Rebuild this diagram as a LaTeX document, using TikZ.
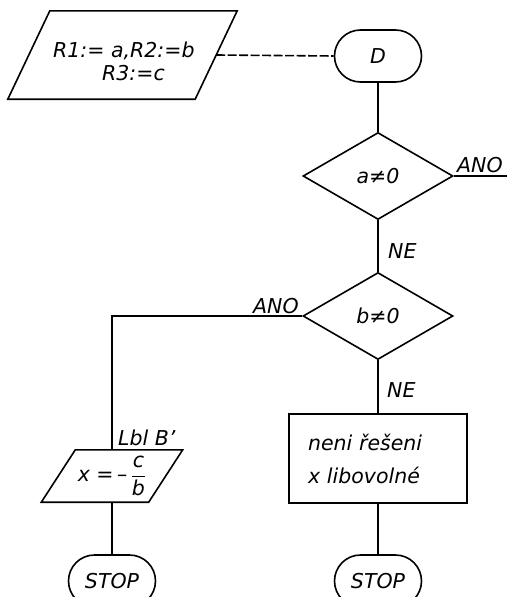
\documentclass[tikz,border=0pt]{standalone}
\usepackage{fontspec}
\usepackage{amsmath}
\setmainfont{DejaVu Sans}
\usetikzlibrary{shapes.geometric}
\begin{document}
\begin{tikzpicture}[x=1pt,y=-1pt,
  every node/.style={font=\fontsize{20.5}{33}\selectfont\itshape},
  line/.style={line width=1.6pt},
  term/.style={draw,line width=1.6pt,rectangle,rounded corners=26pt,minimum width=87pt,minimum height=52pt,inner sep=0pt},
  dec/.style={draw,line width=1.6pt,shape=diamond,minimum width=150pt,minimum height=87pt,inner sep=0pt},
  iobox/.style={rectangle,inner sep=0pt},
  lab/.style={inner sep=0pt}]
\useasboundingbox (0,0) rectangle (507,597);
% nodes
\node[iobox,minimum width=229pt,minimum height=88pt] (in) at (122.5,55) {};
\draw[line,line join=miter] ([xshift=42pt]in.north west) -- (in.north east) -- ([xshift=-42pt]in.south east) -- (in.south west) -- cycle;
\coordinate (inR) at ([xshift=-21pt]in.east);
\node[lab,anchor=base west] (t1) at (53,57) {R1:= a,R2:=b};
\node[lab,anchor=base west] (t2) at (102,80) {R3:=c};
\node[term] (D) at (378,56) {D};
\node[dec] (d1) at (378,176) {a≠0};
\node[dec] (d2) at (378,316) {b≠0};
\node[draw,line width=1.6pt,rectangle,minimum width=178pt,minimum height=89pt,text width=140pt,inner xsep=19pt,align=left] (r) at (378,458.5) {neni řešeni\\x libovolné};
\node[iobox,minimum width=141pt,minimum height=52pt] (out) at (112,476) {x =\,–\,$\dfrac{\text{c}}{\text{b}}$};
\draw[line,line join=miter] ([xshift=34pt]out.north west) -- (out.north east) -- ([xshift=-34pt]out.south east) -- (out.south west) -- cycle;
\node[term] (s1) at (112,581) {STOP};
\node[term] (s2) at (378,581) {STOP};
\coordinate (e1) at (507,176);
% labels
\node[lab,anchor=base west] (l1) at (457,172) {ANO};
\node[lab,anchor=base west] (l2) at (388,258) {NE};
\node[lab,anchor=base west] (l3) at (253,313) {ANO};
\node[lab,anchor=base west] (l4) at (387,397) {NE};
\node[lab,anchor=base west] (l5) at (118,445) {Lbl B’};
% connectors
\draw[line,dash pattern=on 9pt off 2.5pt] (inR) -- (D.west);
\draw[line] (D.south) -- (d1.north);
\draw[line] (d1.east) -- (e1);
\draw[line] (d1.south) -- (d2.north);
\draw[line] (d2.west) -| (out.north);
\draw[line] (d2.south) -- (r.north);
\draw[line] (out.south) -- (s1.north);
\draw[line] (r.south) -- (s2.north);
\end{tikzpicture}
\end{document}
